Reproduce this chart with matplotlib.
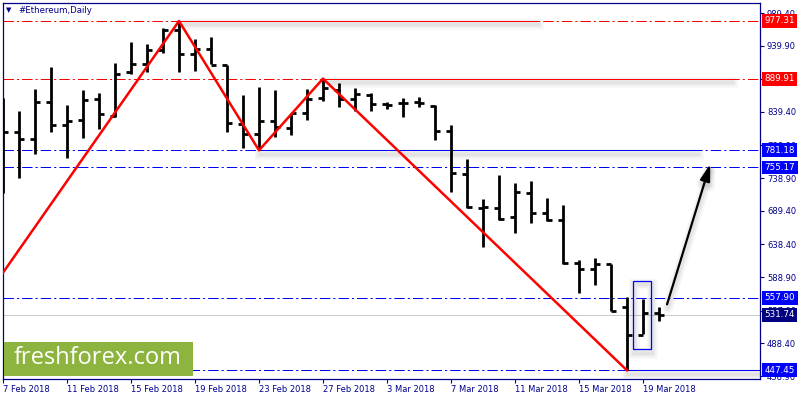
import matplotlib
matplotlib.use('Agg')
import matplotlib.pyplot as plt
import matplotlib.patheffects as pe
from matplotlib.patches import Rectangle

# daily OHLC, day 0 = 7 Feb 2018
opens = [819.5, 809.4, 797.9, 854.9, 819.5, 827.1, 858.5, 833.6, 900.4, 911.6,
         932.8, 963.1, 926.8, 934.3, 910.5, 820.6, 805.9, 826.1, 814.5, 837.3,
         860.0, 872.6, 858.5, 865.0, 850.9, 852.5, 854.0, 848.4, 810.9, 744.8,
         694.1, 694.1, 679.6, 716.0, 686.5, 675.5, 609.8, 601.2, 608.8, 543.1,
         501.1, 534.9]
highs = [860.5, 840.8, 874.1, 908.0, 849.9, 872.6, 867.6, 913.1, 945.0, 941.9,
         966.2, 977.31, 950.0, 952.5, 910.5, 865.0, 877.2, 872.6, 838.2, 873.7,
         889.91, 882.8, 875.2, 867.6, 854.9, 860.0, 862.5, 849.9, 819.5, 768.0,
         706.9, 743.7, 732.0, 735.1, 708.4, 698.2, 614.8, 618.6, 608.8, 558.5,
         555.2, 544.0]
lows = [716.4, 738.7, 775.1, 808.5, 769.9, 800.3, 813.0, 832.1, 896.4, 900.4,
        928.3, 899.5, 901.9, 911.6, 809.4, 784.2, 781.18, 801.8, 804.4, 827.1,
        856.4, 847.3, 841.2, 841.2, 843.4, 831.2, 846.4, 796.8, 717.5, 694.1,
        634.1, 675.5, 656.2, 670.5, 674.4, 608.8, 565.2, 577.7, 537.5, 447.45,
        502.6, 522.8]
closes = [809.4, 797.9, 854.9, 819.5, 825.6, 857.4, 835.8, 897.3, 911.6, 932.8,
          963.1, 926.8, 934.3, 910.5, 822.1, 805.9, 826.1, 816.0, 837.3, 858.5,
          875.2, 858.5, 866.6, 850.9, 849.9, 853.4, 852.5, 810.9, 746.3, 695.6,
          694.7, 677.0, 718.4, 685.6, 675.5, 610.3, 601.2, 608.8, 537.9, 501.1,
          534.9, 531.74]

x_tick_days = [0, 4, 8, 12, 16, 20, 24, 28, 32, 36, 40]
x_tick_labels = ['7 Feb 2018', '11 Feb 2018', '15 Feb 2018', '19 Feb 2018',
                 '23 Feb 2018', '27 Feb 2018', '3 Mar 2018', '7 Mar 2018',
                 '11 Mar 2018', '15 Mar 2018', '19 Mar 2018']
y_ticks = [989.40, 939.90, 889.40, 839.40, 788.90, 738.90, 689.40, 638.40,
           588.90, 537.90, 488.40, 438.90]

# zigzag wave
zz_days = [-1, 11, 16, 20, 39]
zz_prices = [560.9, 977.31, 781.18, 889.91, 447.45]

# horizontal levels
red_levels = [977.31, 889.91]
blue_levels = [781.18, 755.17, 557.90, 447.45]
current_price = 531.74

# solid trend segments (start day, end day, price, colour)
segments = [(11, 33.4, 977.31, 'red'), (20, 45.5, 889.91, 'red'),
            (16, 43.4, 781.18, 'blue'), (39, 47.4, 447.45, 'blue')]

box_days = (39.4, 40.5)
box_prices = (479.5, 583.0)
arrow_from = (41.5, 547.6)
arrow_to = (44.2, 760.4)

navy = '#00008b'
red = '#ff0000'
blue = '#0000ff'
plt.rcParams['lines.scale_dashes'] = False
dashdot = (0, (7.5, 2.2, 1.5, 2.2))
thin = 0.72  # one pixel


def shadow():
    fx = [pe.SimpleLineShadow(offset=(0.5, -2.5), shadow_color='k', alpha=0.028, linewidth=w)
          for w in (8, 6, 4, 2.5)]
    return fx + [pe.Normal()]


fig = plt.figure(figsize=(8, 4), dpi=100)
ax = fig.add_axes([2.5 / 800, 21 / 400, 757.5 / 800, 376 / 400])
ax.set_xlim(-0.03, 47.31)
ax.set_ylim(434.4, 1004.6)

for lv in red_levels:
    ax.axhline(lv, color=red, lw=thin, linestyle=dashdot, zorder=1)
for lv in blue_levels:
    ax.axhline(lv, color=blue, lw=thin, linestyle=dashdot, zorder=1)
ax.axhline(current_price, color='#cccccc', lw=thin, zorder=1)

for d0, d1, lv, c in segments:
    ax.plot([d0, d1], [lv, lv], color=red if c == 'red' else blue, lw=thin,
            zorder=2, path_effects=shadow())

# OHLC bars
days = list(range(len(opens)))
ax.vlines(days, lows, highs, color='black', lw=2.0, zorder=3)
ax.hlines(opens, [d - 0.3 for d in days], days, color='black', lw=2.0, zorder=3)
ax.hlines(closes, days, [d + 0.3 for d in days], color='black', lw=2.0, zorder=3)

ax.plot(zz_days, zz_prices, color=red, lw=1.8, zorder=4)

rect = Rectangle((box_days[0], box_prices[0]), box_days[1] - box_days[0],
                 box_prices[1] - box_prices[0], fill=False, ec=blue, lw=0.9, zorder=4)
rect.set_path_effects(shadow())
ax.add_patch(rect)

ann = ax.annotate('', xy=arrow_to, xytext=arrow_from,
                  arrowprops=dict(arrowstyle='-|>,head_length=1.0,head_width=0.3',
                                  color='black', lw=1.6, shrinkA=0, shrinkB=0),
                  zorder=5)
ann.arrow_patch.set_path_effects(shadow())

# axes styling
for s in ax.spines.values():
    s.set_color(navy)
    s.set_linewidth(0.9)
ax.yaxis.tick_right()
ax.set_yticks(y_ticks)
ax.set_yticklabels(['%.2f' % v for v in y_ticks])
ax.set_xticks(x_tick_days)
ax.set_xticklabels(x_tick_labels)
for lbl in ax.get_xticklabels():
    lbl.set_horizontalalignment('left')
ax.tick_params(axis='both', direction='out', length=3, width=0.8, color=navy,
               labelcolor=navy, labelsize=6)
ax.tick_params(axis='y', pad=2)
ax.tick_params(axis='x', pad=1.5)

# price tags on the right
tags = [(lv, red) for lv in red_levels] + [(lv, blue) for lv in blue_levels]
tags.append((current_price, '#000080'))
for lv, c in tags:
    ax.text(1 + 4.5 / 757.5, lv, '%.2f' % lv, transform=ax.get_yaxis_transform(),
            ha='left', va='center', fontsize=6.3, color='white', clip_on=False,
            bbox=dict(boxstyle='square,pad=0.28', fc=c, ec='none'), zorder=10)

# title
fig.text(6 / 800, 1 - 10.5 / 400, '\u25bc', fontsize=5, color=navy, va='center')
fig.text(18 / 800, 1 - 10.5 / 400, '#Ethereum,Daily', fontsize=6.2, color=navy, va='center')

# watermark
fig.add_artist(Rectangle((4 / 800, 24 / 400), 189 / 800, 34.5 / 400,
                         transform=fig.transFigure, fc='#8db43e', ec='none', zorder=5))
fig.text(98 / 800, 41.5 / 400, 'freshforex.com', ha='center', va='center',
         fontsize=17, family='Open Sans', color='white', zorder=6)

fig.savefig('out.png', dpi=100)
